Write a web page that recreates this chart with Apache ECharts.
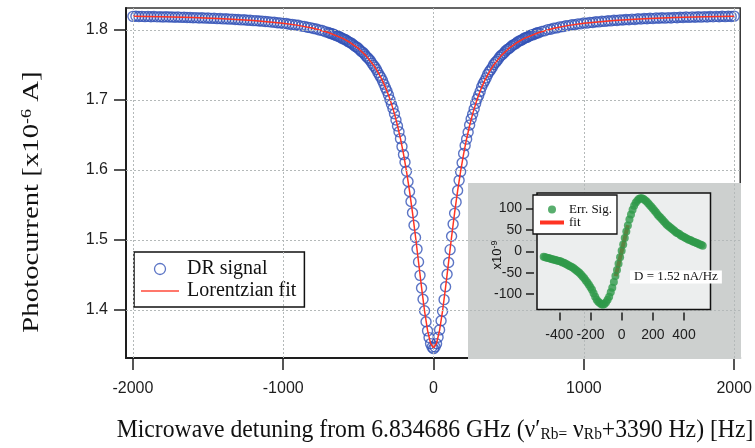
<!DOCTYPE html>
<html><head><meta charset="utf-8">
<script src="https://cdn.jsdelivr.net/npm/echarts@6/dist/echarts.min.js"></script>
<style>html,body{margin:0;padding:0;background:#fff}#c{width:755px;height:448px}</style>
</head><body><div id="c"></div>
<script>
// ---- Main plot data (detuning in Hz, photocurrent in 1e-6 A) ----
const detuning = [
-2000,-1980,-1960,-1940,-1920,-1900,-1880,-1860,-1840,-1820,
-1800,-1780,-1760,-1740,-1720,-1700,-1680,-1660,-1640,-1620,
-1600,-1580,-1560,-1540,-1520,-1500,-1480,-1460,-1440,-1420,
-1400,-1380,-1360,-1340,-1320,-1300,-1280,-1260,-1240,-1220,
-1200,-1180,-1160,-1140,-1120,-1100,-1080,-1060,-1040,-1020,
-1000,-980,-960,-940,-920,-900,-880,-860,-840,-820,
-800,-780,-760,-740,-720,-700,-680,-660,-640,-620,
-600,-580,-560,-540,-520,-500,-480,-460,-440,-420,
-400,-380,-360,-340,-320,-300,-280,-260,-240,-220,
-200,-180,-160,-140,-120,-100,-80,-60,-40,-20,
0,
20,40,60,80,100,120,140,160,180,200,
220,240,260,280,300,320,340,360,380,400,
420,440,460,480,500,520,540,560,580,600,
620,640,660,680,700,720,740,760,780,800,
820,840,860,880,900,920,940,960,980,1000,
1020,1040,1060,1080,1100,1120,1140,1160,1180,1200,
1220,1240,1260,1280,1300,1320,1340,1360,1380,1400,
1420,1440,1460,1480,1500,1520,1540,1560,1580,1600,
1620,1640,1660,1680,1700,1720,1740,1760,1780,1800,
1820,1840,1860,1880,1900,1920,1940,1960,1980,2000
];
const drSignal = [
1.8195,1.8197,1.8192,1.8195,1.8191,1.8194,1.8189,1.8192,1.8188,1.8190,
1.8186,1.8189,1.8185,1.8186,1.8182,1.8185,1.8180,1.8182,1.8178,1.8179,
1.8175,1.8177,1.8172,1.8174,1.8169,1.8171,1.8166,1.8167,1.8162,1.8164,
1.8159,1.8160,1.8155,1.8156,1.8150,1.8151,1.8145,1.8146,1.8140,1.8140,
1.8134,1.8134,1.8128,1.8127,1.8121,1.8120,1.8113,1.8111,1.8104,1.8102,
1.8094,1.8092,1.8083,1.8080,1.8071,1.8067,1.8056,1.8052,1.8040,1.8034,
1.8022,1.8015,1.8001,1.7992,1.7976,1.7965,1.7947,1.7934,1.7913,1.7897,
1.7873,1.7854,1.7825,1.7801,1.7765,1.7737,1.7694,1.7658,1.7606,1.7560,
1.7495,1.7436,1.7354,1.7277,1.7174,1.7072,1.6938,1.6803,1.6628,1.6448,
1.6220,1.5982,1.5692,1.5389,1.5036,1.4687,1.4315,1.3990,1.3702,1.3520,
1.3448,
1.3518,1.3716,1.3981,1.4332,1.4679,1.5053,1.5381,1.5708,1.5975,1.6236,
1.6441,1.6643,1.6797,1.6951,1.7066,1.7186,1.7271,1.7366,1.7430,1.7505,
1.7555,1.7614,1.7653,1.7702,1.7732,1.7772,1.7797,1.7831,1.7850,1.7879,
1.7893,1.7919,1.7930,1.7952,1.7961,1.7981,1.7988,1.8006,1.8011,1.8027,
1.8030,1.8045,1.8048,1.8061,1.8063,1.8076,1.8076,1.8088,1.8088,1.8099,
1.8098,1.8109,1.8107,1.8118,1.8116,1.8126,1.8123,1.8133,1.8130,1.8139,
1.8136,1.8145,1.8142,1.8150,1.8147,1.8155,1.8151,1.8160,1.8156,1.8164,
1.8160,1.8167,1.8163,1.8171,1.8167,1.8174,1.8170,1.8177,1.8172,1.8180,
1.8175,1.8182,1.8178,1.8185,1.8180,1.8187,1.8182,1.8189,1.8184,1.8191,
1.8186,1.8193,1.8188,1.8194,1.8189,1.8196,1.8191,1.8197,1.8192,1.8198
];
// in-between samples of the central region (the sweep is 10 Hz apart there)
const detuningMid = [
-690,-670,-650,-630,-610,-590,-570,-550,-530,-510,
-490,-470,-450,-430,-410,-390,-370,-350,-330,-310,
-290,-270,-250,-230,-210,-190,-170,-150,-130,-110,
-90,-70,-50,-30,-10,
10,30,50,70,90,110,130,150,170,190,
210,230,250,270,290,310,330,350,370,390,
410,430,450,470,490,510,530,550,570,590,
610,630,650,670,690
];
const drSignalMid = [
1.7955,1.7943,1.7923,1.7908,1.7884,1.7866,1.7837,1.7816,1.7782,1.7755,
1.7714,1.7680,1.7629,1.7587,1.7524,1.7470,1.7392,1.7322,1.7224,1.7129,
1.7003,1.6878,1.6714,1.6547,1.6334,1.6111,1.5836,1.5550,1.5211,1.4870,
1.4495,1.4154,1.3832,1.3606,1.3468,
1.3472,1.3610,1.3846,1.4148,1.4511,1.4862,1.5227,1.5541,1.5852,1.6102,
1.6349,1.6540,1.6728,1.6871,1.7015,1.7122,1.7235,1.7316,1.7404,1.7465,
1.7534,1.7582,1.7638,1.7675,1.7721,1.7751,1.7788,1.7812,1.7843,1.7862,
1.7889,1.7904,1.7928,1.7939,1.7960
];
const fitDetuning = [
-2000,-1800,-1600,-1400,-1200,-1000,-900,-800,-700,-600,-550,-500,-450,-400,
-380,-360,-340,-320,-300,-280,-260,-240,-220,-200,-180,-160,-140,-120,-100,-80,-60,-40,-20,
0,
20,40,60,80,100,120,140,160,180,200,220,240,260,280,300,320,340,360,380,
400,450,500,550,600,700,800,900,1000,1200,1400,1600,1800,2000
];
const fitSignal = [
1.8196,1.8188,1.8177,1.8161,1.8136,1.8096,1.8066,1.8024,1.7964,1.7876,1.7814,1.7736,1.7634,1.7500,
1.7435,1.7360,1.7276,1.7180,1.7071,1.6945,1.6802,1.6636,1.6447,1.6229,1.5981,1.5701,1.5388,1.5046,1.4686,1.4325,1.3988,1.3710,1.3525,
1.3460,
1.3525,1.3710,1.3988,1.4325,1.4686,1.5046,1.5388,1.5701,1.5981,1.6229,1.6447,1.6636,1.6802,1.6945,1.7071,1.7180,1.7276,1.7360,1.7435,
1.7500,1.7634,1.7736,1.7814,1.7876,1.7964,1.8024,1.8066,1.8096,1.8136,1.8161,1.8177,1.8188,1.8196
];
const xTicks = [-2000, -1000, 0, 1000, 2000];
const yTicks = [1.4, 1.5, 1.6, 1.7, 1.8];

// ---- Inset data (detuning in Hz, error signal in 1e-9) ----
const errDetuning = [
-500,-490,-480,-470,-460,-450,-440,-430,-420,-410,
-400,-390,-380,-370,-360,-350,-340,-330,-320,-310,
-300,-290,-280,-270,-260,-250,-240,-230,-220,-210,
-200,-190,-180,-170,-160,-150,-140,-130,-120,-110,
-100,-90,-80,-70,-60,-50,-40,-30,-20,-10,
0,10,20,30,40,50,60,70,80,90,
100,110,120,130,140,150,160,170,180,190,
200,210,220,230,240,250,260,270,280,290,
300,310,320,330,340,350,360,370,380,390,
400,410,420,430,440,450,460,470,480,490,
500,510,520
];
const errSignal = [
-13,-14,-15,-16,-17,-18,-19,-20,-21,-22,
-23,-24,-26,-27,-29,-31,-33,-35,-37,-39,
-42,-45,-48,-51,-55,-59,-63,-68,-73,-78,
-84,-90,-98,-106,-113,-118,-121,-124,-125,-123,
-119,-113,-106,-96,-85,-72,-58,-44,-29,-14,
1,16,31,46,60,74,86,97,106,113,
118,122,124,124,122,119,116,112,108,104,
100,95,91,86,82,78,74,70,66,62,
59,56,53,50,47,44,42,40,37,35,
33,31,29,27,26,24,22,21,19,18,
16,15,13
];
const errFitDetuning = [-38, 40];
const errFitSignal = [-58, 61];
const insetXTicks = [-400, -200, 0, 200, 400];
const insetYTicks = [-100, -50, 0, 50, 100];

const zip = (a, b) => a.map((v, i) => [v, b[i]]);
const sans = '"Liberation Sans", Arial, sans-serif';
const serif = '"Liberation Serif", "Times New Roman", serif';
const ink = '#1e1e1e';
const blue = '#3352b6';
const red = '#ff3322';
const green = '#2f9a4a';

const chart = echarts.init(document.getElementById('c'), null, {renderer: 'canvas'});
chart.setOption({
  animation: false,
  backgroundColor: '#fff',
  grid: [
    {left: 126, top: 8, right: 12, bottom: 90, show: true, backgroundColor: '#fff',
     borderColor: '#333', borderWidth: 1.5, z: 0},
    {left: 537, top: 193, right: 44.5, bottom: 138.5, show: true, backgroundColor: '#eceeee',
     borderColor: '#111', borderWidth: 1.5, z: 6}
  ],
  xAxis: [
    {gridIndex: 0, type: 'value', min: -2046, max: 2040,
     axisLine: {show: true, onZero: false, lineStyle: {color: ink, width: 2}},
     axisTick: {show: true, customValues: xTicks, length: 12, lineStyle: {color: ink, width: 1.5}},
     axisLabel: {customValues: xTicks, margin: 23, fontSize: 16, fontFamily: sans, color: ink,
                 formatter: v => String(v)},
     splitLine: {show: false}},
    {gridIndex: 1, type: 'value', min: -543, max: 570, offset: 3, z: 7,
     axisLine: {show: false, onZero: false},
     axisTick: {show: true, customValues: insetXTicks, length: 8, lineStyle: {color: ink, width: 1.5}},
     axisLabel: {customValues: insetXTicks, margin: 16, fontSize: 14, fontFamily: sans, color: ink,
                 formatter: v => String(v)},
     splitLine: {show: false}}
  ],
  yAxis: [
    {gridIndex: 0, type: 'value', min: 1.33143, max: 1.83143,
     axisLine: {show: true, onZero: false, lineStyle: {color: ink, width: 2}},
     axisTick: {show: true, customValues: yTicks, length: 12, lineStyle: {color: ink, width: 1.5}},
     axisLabel: {customValues: yTicks, margin: 18, fontSize: 16, fontFamily: sans, color: ink,
                 formatter: v => v.toFixed(1)},
     splitLine: {show: false}},
    {gridIndex: 1, type: 'value', min: -136, max: 136, offset: 3, z: 7,
     axisLine: {show: false, onZero: false},
     axisTick: {show: true, customValues: insetYTicks, length: 8, lineStyle: {color: ink, width: 1.5}},
     axisLabel: {customValues: insetYTicks, margin: 12, fontSize: 14, fontFamily: sans, color: ink,
                 formatter: v => String(v)},
     splitLine: {show: false}}
  ],
  legend: [
    {left: 134, top: 252, orient: 'vertical', z: 4,
     backgroundColor: '#fff', borderColor: '#111', borderWidth: 1.5, borderRadius: 0,
     padding: [7, 8, 6, 7], itemGap: 2, itemWidth: 38, itemHeight: 11,
     textStyle: {fontFamily: serif, fontSize: 20, color: '#111', padding: [0, 0, 0, 3]},
     data: [
       {name: 'DR signal', icon: 'circle',
        itemStyle: {color: 'rgba(0,0,0,0)', borderColor: blue, borderWidth: 1.3}},
       {name: 'Lorentzian fit', icon: 'path://M0,0L38,0L38,1.6L0,1.6Z',
        itemStyle: {color: '#ff4a3a', borderWidth: 0}}
     ]},
    {left: 533, top: 195, orient: 'vertical', z: 9,
     backgroundColor: '#fff', borderColor: '#111', borderWidth: 1.3, borderRadius: 0,
     padding: [8, 5, 5, 7], itemGap: 0, itemWidth: 24, itemHeight: 8,
     textStyle: {fontFamily: serif, fontSize: 13, color: '#111'},
     data: [{name: 'Err. Sig.', icon: 'circle'},
            {name: 'fit', icon: 'path://M0,0L24,0L24,4L0,4Z', itemStyle: {color: red, borderWidth: 0}}]}
  ],
  title: {text: 'D = 1.52 nA/Hz', left: 630, top: 271, z: 10, padding: [0, 4],
          backgroundColor: '#fff',
          textStyle: {fontFamily: serif, fontSize: 13, fontWeight: 'normal', color: '#111', lineHeight: 12}},
  graphic: [
    {type: 'rect', z: 5, silent: true, shape: {x: 468, y: 183, width: 273, height: 176},
     style: {fill: '#cdd0cf'}},
    {type: 'text', z: 10, silent: true, x: 32, y: 202, rotation: Math.PI / 2, scaleX: 1.2,
     style: {text: 'Photocurrent [x10{sup|-6} A]', fill: '#111', fontFamily: serif, fontSize: 24,
             align: 'center', verticalAlign: 'middle',
             rich: {sup: {fontFamily: serif, fontSize: 15, verticalAlign: 'top', lineHeight: 15}}}},
    {type: 'text', z: 10, silent: true, x: 435, y: 430, scaleX: 1.03, scaleY: 1.1,
     style: {text: 'Microwave detuning from 6.834686 GHz (\u03bd\u2032{sub|Rb=} \u03bd{sub|Rb}+3390 Hz) [Hz]',
             fill: '#111', fontFamily: serif, fontSize: 23, align: 'center', verticalAlign: 'middle',
             rich: {sub: {fontFamily: serif, fontSize: 15, verticalAlign: 'bottom', lineHeight: 15}}}},
    {type: 'text', z: 10, silent: true, x: 497, y: 255, rotation: Math.PI / 2,
     style: {text: 'x10{sup|-9}', fill: '#111', fontFamily: sans, fontSize: 13,
             align: 'center', verticalAlign: 'middle',
             rich: {sup: {fontFamily: sans, fontSize: 9, verticalAlign: 'top', lineHeight: 9}}}}
  ],
  series: [
    {name: 'grid', type: 'line', xAxisIndex: 0, yAxisIndex: 0, z: 1, silent: true,
     data: [[xTicks[0], yTicks[0]]], showSymbol: false, lineStyle: {opacity: 0},
     markLine: {silent: true, symbol: ['none', 'none'], label: {show: false}, animation: false,
       lineStyle: {color: '#b4b9b9', type: [2, 2], width: 1},
       emphasis: {disabled: true},
       data: xTicks.map(v => ({xAxis: v})).concat(yTicks.map(v => ({yAxis: v})))}},
    {name: 'DR signal', type: 'scatter', xAxisIndex: 0, yAxisIndex: 0, z: 2,
     symbol: 'circle', symbolSize: 10,
     itemStyle: {color: 'rgba(0,0,0,0)', borderColor: blue, borderWidth: 1.4},
     data: zip(detuning, drSignal).concat(zip(detuningMid, drSignalMid))},
    {name: 'Lorentzian fit', type: 'line', xAxisIndex: 0, yAxisIndex: 0, z: 3,
     showSymbol: false, symbol: 'none', lineStyle: {color: red, width: 1.5}, itemStyle: {color: red},
     data: zip(fitDetuning, fitSignal)},
    {name: 'Err. Sig.', type: 'scatter', xAxisIndex: 1, yAxisIndex: 1, z: 8,
     symbol: 'circle', symbolSize: 8, itemStyle: {color: green},
     data: zip(errDetuning, errSignal)},
    {name: 'fit', type: 'line', xAxisIndex: 1, yAxisIndex: 1, z: 8,
     showSymbol: false, symbol: 'none', lineStyle: {color: red, width: 4}, itemStyle: {color: red},
     data: zip(errFitDetuning, errFitSignal)}
  ]
});
</script>
</body></html>
